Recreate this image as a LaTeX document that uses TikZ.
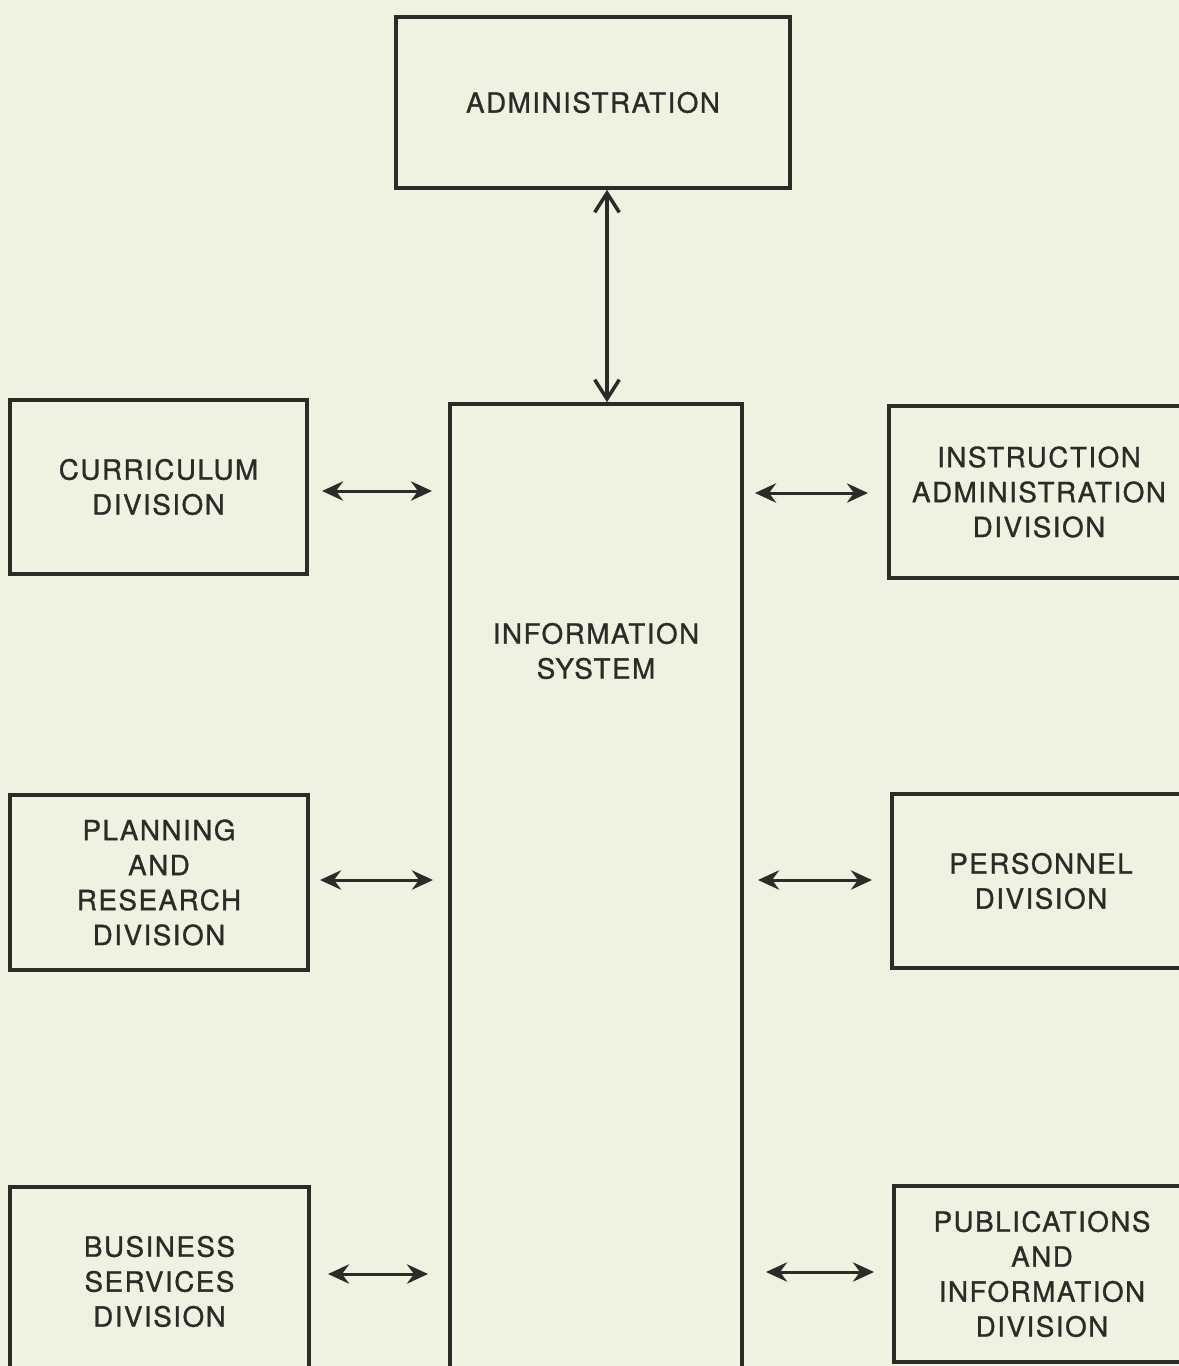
\documentclass[tikz,border=0pt]{standalone}
\usepackage{fontspec}
\setmainfont{TeX Gyre Heros}[LetterSpace=5.5,FakeBold=1]
\usetikzlibrary{arrows.meta}
\definecolor{paper}{HTML}{EFF1E1}
\definecolor{ink}{HTML}{2B2B28}
\tikzset{
  box/.style={draw=ink, line width=2pt, text=ink, align=center, inner sep=0pt,
    font=\fontsize{15.8}{19.9}\selectfont},
  lbl/.style={text=ink, align=center, inner sep=0pt, font=\fontsize{15.8}{19.9}\selectfont},
  harrow/.style={draw=ink, line width=1.7pt, {Stealth[length=12pt,width=11pt,inset=4pt]}-{Stealth[length=12pt,width=11pt,inset=4pt]}},
  varrow/.style={draw=ink, line width=2pt, {Straight Barb[length=11pt,width=14pt]}-{Straight Barb[length=11pt,width=14pt]}}
}
\begin{document}
\begin{tikzpicture}[x=0.02cm,y=-0.02cm]
\useasboundingbox (0,0) rectangle (1179,1366);
\fill[paper] (0,0) rectangle (1179,1366);
% boxes
\node[box, minimum width=394*0.02cm, minimum height=171*0.02cm] (adm) at (593,102.5) {ADMINISTRATION};
\node[box, minimum width=292*0.02cm, minimum height=970*0.02cm] (info) at (596,889) {};
\node[lbl] (infotext) at (596,651) {INFORMATION\\SYSTEM};
\node[box, minimum width=297*0.02cm, minimum height=174*0.02cm] (cur) at (158.5,487) {CURRICULUM\\DIVISION};
\node[box, minimum width=298*0.02cm, minimum height=175*0.02cm] (pla) at (159,882.5) {PLANNING\\AND\\RESEARCH\\DIVISION};
\node[box, minimum width=299*0.02cm, minimum height=189*0.02cm] (bus) at (159.5,1281.5) {BUSINESS\\SERVICES\\DIVISION};
\node[box, minimum width=300*0.02cm, minimum height=172*0.02cm] (ins) at (1039,492) {INSTRUCTION\\ADMINISTRATION\\DIVISION};
\node[box, minimum width=298*0.02cm, minimum height=174*0.02cm] (per) at (1041,881) {PERSONNEL\\DIVISION};
\node[box, minimum width=296*0.02cm, minimum height=176*0.02cm] (pub) at (1042,1274) {PUBLICATIONS\\AND\\INFORMATION\\DIVISION};
% connector ends
\coordinate (c1) at (322,491); \coordinate (c2) at (432,491);
\coordinate (p1) at (320,880); \coordinate (p2) at (433,880);
\coordinate (b1) at (328,1274); \coordinate (b2) at (428,1274);
\coordinate (i1) at (755,493); \coordinate (i2) at (868,493);
\coordinate (e1) at (758,880); \coordinate (e2) at (872,880);
\coordinate (u1) at (766,1272); \coordinate (u2) at (874,1272);
% connectors
\draw[varrow] (adm.south -| 607,0) -- (info.north -| 607,0);
\draw[harrow] (c1) -- (c2);
\draw[harrow] (p1) -- (p2);
\draw[harrow] (b1) -- (b2);
\draw[harrow] (i1) -- (i2);
\draw[harrow] (e1) -- (e2);
\draw[harrow] (u1) -- (u2);
\end{tikzpicture}
\end{document}
